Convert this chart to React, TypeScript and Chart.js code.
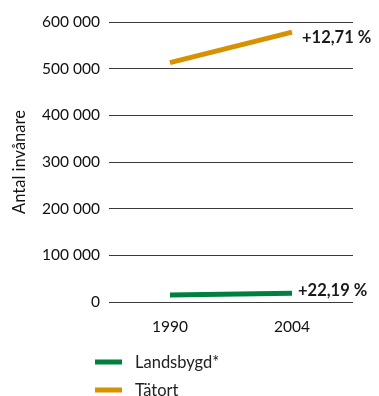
import React, { useEffect, useRef } from "react";
import { Chart, registerables } from "chart.js";

Chart.register(...registerables);

const years = ["1990", "2004"];
const landsbygd = [15200, 18570];
const tatort = [513000, 578200];
const seriesNames = ["Landsbygd*", "Tätort"];
const changeLabels = ["+22,19 %", "+12,71 %"];
const seriesColors = ["#00803F", "#D69200"];
const yTicks = [0, 100000, 200000, 300000, 400000, 500000, 600000];
const yTitle = "Antal invånare";

const FONT = "Lato, 'Open Sans', sans-serif";

const fmt = (v: number) =>
  String(Math.round(v)).replace(/\B(?=(\d{3})+(?!\d))/g, " ");

const endLabelPlugin = {
  id: "endLabels",
  afterDatasetsDraw(chart: any) {
    const ctx = chart.ctx;
    const offs = [
      { dx: 6, dy: -3 },
      { dx: 10, dy: 5 },
    ];
    chart.data.datasets.forEach((ds: any, i: number) => {
      const meta = chart.getDatasetMeta(i);
      const pt = meta.data[meta.data.length - 1];
      if (!pt) return;
      ctx.save();
      ctx.font = `bold 16.5px ${FONT}`;
      ctx.fillStyle = "#1a1a1a";
      ctx.textAlign = "left";
      ctx.textBaseline = "middle";
      ctx.fillText(changeLabels[i], pt.x + offs[i].dx, pt.y + offs[i].dy);
      ctx.restore();
    });
  },
};

const legendPlugin = {
  id: "stackLegend",
  afterDraw(chart: any) {
    const ctx = chart.ctx;
    const base = chart.chartArea.bottom + 60;
    chart.data.datasets.forEach((ds: any, i: number) => {
      const y = base + i * 28;
      ctx.save();
      ctx.fillStyle = ds.borderColor;
      ctx.fillRect(95, y - 2.5, 27, 5);
      ctx.font = `16.5px ${FONT}`;
      ctx.fillStyle = "#222";
      ctx.textAlign = "left";
      ctx.textBaseline = "middle";
      ctx.fillText(ds.label, 135, y + 1);
      ctx.restore();
    });
  },
};

export default function App() {
  const ref = useRef<HTMLCanvasElement>(null);
  useEffect(() => {
    if (!ref.current) return;
    const chart = new Chart(ref.current, {
      type: "line",
      data: {
        labels: years,
        datasets: [
          {
            label: seriesNames[0],
            data: landsbygd,
            borderColor: seriesColors[0],
            backgroundColor: seriesColors[0],
            borderWidth: 5,
            pointRadius: 0,
            tension: 0,
            borderCapStyle: "butt",
          },
          {
            label: seriesNames[1],
            data: tatort,
            borderColor: seriesColors[1],
            backgroundColor: seriesColors[1],
            borderWidth: 5,
            pointRadius: 0,
            tension: 0,
            borderCapStyle: "butt",
          },
        ],
      },
      options: {
        animation: false,
        responsive: true,
        maintainAspectRatio: false,
        layout: { padding: { top: 22, right: 26, left: 0, bottom: 0 } },
        plugins: {
          legend: { display: false },
          tooltip: { enabled: false },
        },
        scales: {
          x: {
            type: "category",
            offset: true,
            grid: { display: false, drawTicks: false },
            border: { display: false },
            ticks: {
              color: "#111",
              font: { family: FONT, size: 15.5 },
              padding: 16,
            },
            afterFit(scale: any) {
              scale.height = 94;
            },
          },
          y: {
            min: 0,
            max: 600000,
            afterBuildTicks(scale: any) {
              scale.ticks = yTicks.map((v) => ({ value: v }));
            },
            grid: { color: "#3a3a3a", lineWidth: 1, drawTicks: false },
            border: { display: false },
            ticks: {
              color: "#111",
              font: { family: FONT, size: 15.5 },
              padding: 9,
              callback: (v: any) => fmt(Number(v)),
            },
            title: {
              display: true,
              text: yTitle,
              color: "#111",
              font: { family: FONT, size: 16.5 },
              padding: { top: 10, bottom: 0 },
            },
            afterFit(scale: any) {
              scale.width = 109;
            },
          },
        },
      },
      plugins: [endLabelPlugin, legendPlugin],
    } as any);
    return () => chart.destroy();
  }, []);
  return (
    <div style={{ position: "fixed", left: 0, top: 0, width: 379, height: 396 }}>
      <canvas ref={ref} />
    </div>
  );
}
